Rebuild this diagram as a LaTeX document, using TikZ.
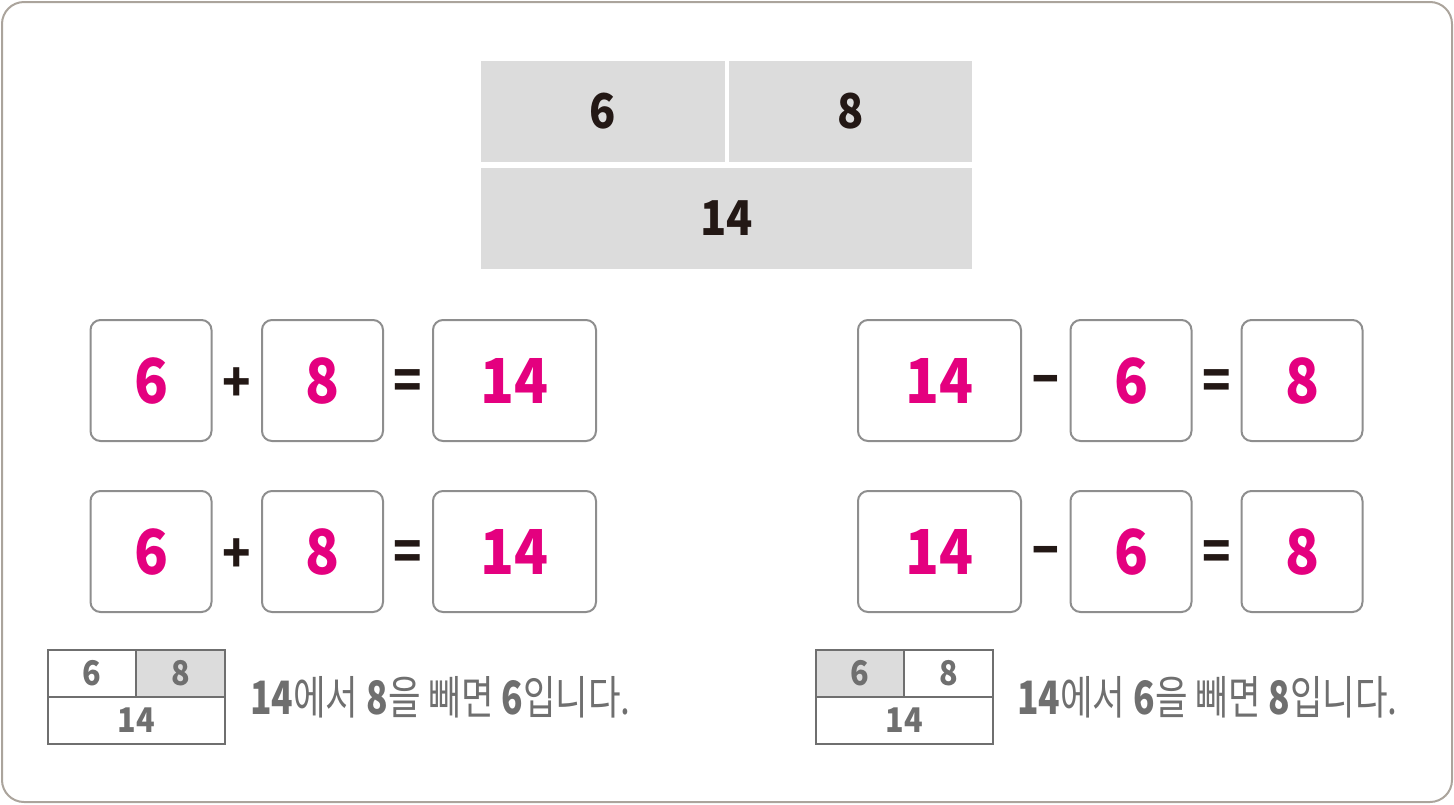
\documentclass[tikz,border=0pt]{standalone}
\usepackage{fontspec}
\usepackage{tikz}
\usetikzlibrary{positioning}
\newfontfamily\krfont{Noto Sans CJK KR}[FakeStretch=0.77]
\newfontfamily\numfont{Noto Sans CJK KR}[FakeStretch=0.9]
\definecolor{framegray}{HTML}{ABA49C}
\definecolor{boxgray}{HTML}{8E8E8E}
\definecolor{bargray}{HTML}{DCDCDC}
\definecolor{smallgray}{HTML}{6F6F6F}
\definecolor{answer}{HTML}{E4007F}
\definecolor{ink}{HTML}{231815}

\begin{document}
\begin{tikzpicture}[x=1pt,y=-1pt,
  numbox/.style={draw=boxgray, line width=2pt, rounded corners=10pt, minimum width=121pt, minimum height=121pt, inner sep=0pt, text=answer, font=\numfont\bfseries\fontsize{62}{62}\selectfont},
  widebox/.style={numbox, minimum width=163pt},
  op/.style={inner sep=0pt, text=ink, font=\numfont\bfseries\fontsize{52}{52}\selectfont},
  barcell/.style={fill=bargray, minimum height=101pt, inner sep=0pt, text=ink, font=\numfont\bfseries\fontsize{48}{48}\selectfont},
  smallcell/.style={draw=smallgray, line width=2pt, minimum height=47pt, inner sep=0pt, text=smallgray, font=\numfont\bfseries\fontsize{34}{34}\selectfont},
  sentence/.style={anchor=west, inner sep=0pt, text=smallgray, font=\krfont\fontsize{46}{46}\selectfont}]
\useasboundingbox (0,0) rectangle (1454,804);
\draw[framegray, line width=2pt, rounded corners=22pt] (2,2) rectangle (1452,802);

% bar model
\node[barcell, minimum width=244pt] (top6) at (603,111.5) {6};
\node[barcell, minimum width=243pt] (top8) at (850.5,111.5) {8};
\node[barcell, minimum width=491pt] (top14) at (726.5,218) {14};

% addition
\node[numbox] (a6) at (151,380.5) {6};
\node[op] (aplus) at (237,385) {+};
\node[numbox] (a8) at (322.5,380.5) {8};
\node[op] (aeq) at (408,385) {=};
\node[widebox] (a14) at (514.5,380.5) {14};

\node[numbox] (b6) at (151,551.5) {6};
\node[op] (bplus) at (237,556) {+};
\node[numbox] (b8) at (322.5,551.5) {8};
\node[op] (beq) at (408,556) {=};
\node[widebox] (b14) at (514.5,551.5) {14};

% subtraction
\node[widebox] (c14) at (939.5,380.5) {14};
\node[op, font=\numfont\bfseries\fontsize{58}{58}\selectfont] (cminus) at (1045.5,385) {–};
\node[numbox] (c6) at (1131,380.5) {6};
\node[op] (ceq) at (1216.5,385) {=};
\node[numbox] (c8) at (1302,380.5) {8};

\node[widebox] (d14) at (939.5,551.5) {14};
\node[op, font=\numfont\bfseries\fontsize{58}{58}\selectfont] (dminus) at (1045.5,556) {–};
\node[numbox] (d6) at (1131,551.5) {6};
\node[op] (deq) at (1216.5,556) {=};
\node[numbox] (d8) at (1302,551.5) {8};

% small bar models
\node[smallcell, minimum width=88pt] (s6) at (92,673.5) {6};
\node[smallcell, minimum width=89pt, fill=bargray] (s8) at (180.5,673.5) {8};
\node[smallcell, minimum width=177pt] (s14) at (136.5,720) {14};
\node[sentence] (stext) at (250,697) {\textbf{14}에서 \textbf{8}을 빼면 \textbf{6}입니다.};

\node[smallcell, minimum width=88pt, fill=bargray] (t6) at (860,673.5) {6};
\node[smallcell, minimum width=89pt] (t8) at (948.5,673.5) {8};
\node[smallcell, minimum width=177pt] (t14) at (904.5,720) {14};
\node[sentence] (ttext) at (1017,697) {\textbf{14}에서 \textbf{6}을 빼면 \textbf{8}입니다.};
\end{tikzpicture}
\end{document}
